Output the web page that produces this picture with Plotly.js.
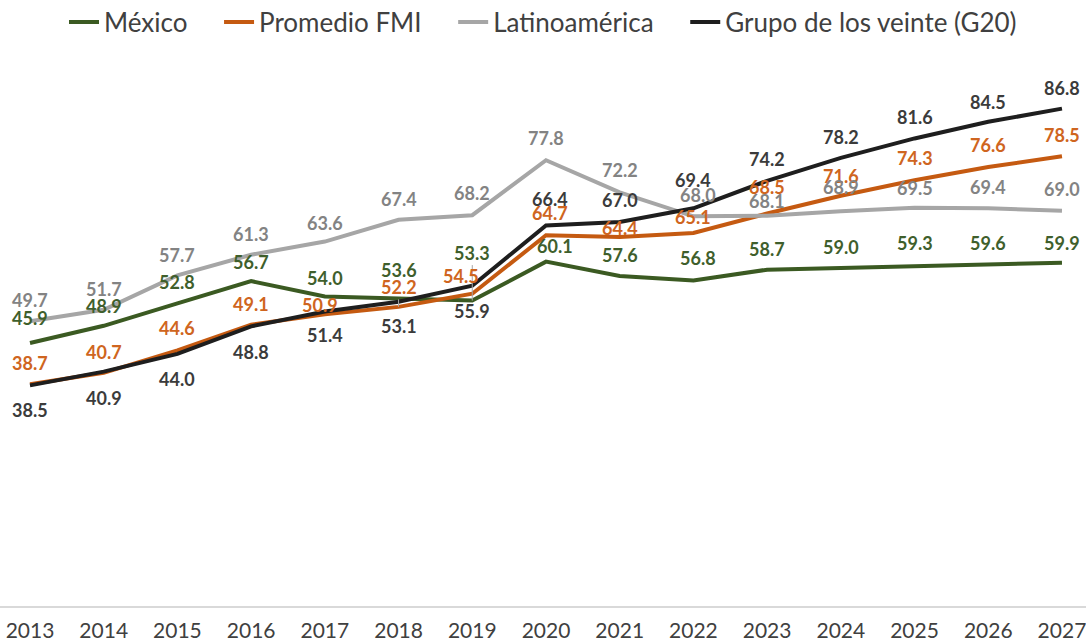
<!DOCTYPE html>
<html>
<head>
<meta charset="utf-8">
<script src="https://cdn.plot.ly/plotly-3.0.1.min.js"></script>
<style>html,body{margin:0;padding:0;background:#fff;}#chart{width:1086px;height:642px;}</style>
</head>
<body>
<div id="chart"></div>
<script>
// ---- data ----
const years = [2013, 2014, 2015, 2016, 2017, 2018, 2019, 2020, 2021, 2022, 2023, 2024, 2025, 2026, 2027];
const seriesNames = ["México", "Promedio FMI", "Latinoamérica", "Grupo de los veinte (G20)"];
const mexico = [45.9, 48.9, 52.8, 56.7, 54.0, 53.6, 53.3, 60.1, 57.6, 56.8, 58.7, 59.0, 59.3, 59.6, 59.9];
const promedioFMI = [38.7, 40.7, 44.6, 49.1, 50.9, 52.2, 54.5, 64.7, 64.4, 65.1, 68.5, 71.6, 74.3, 76.6, 78.5];
const latinoamerica = [49.7, 51.7, 57.7, 61.3, 63.6, 67.4, 68.2, 77.8, 72.2, 68.0, 68.1, 68.9, 69.5, 69.4, 69.0];
const g20 = [38.5, 40.9, 44.0, 48.8, 51.4, 53.1, 55.9, 66.4, 67.0, 69.4, 74.2, 78.2, 81.6, 84.5, 86.8];

// ---- styling (label placement offsets in px, negative = above point) ----
const styles = [
  {line: "#3b5a22", text: "#3f5f2c",
   dy: [-25,-20,-21,-19,-19,-29,-48,-16,-21,-23,-21,-21,-23,-21,-20],
   dx: [0,0,0,0,0,0,0,9,0,5,0,0,0,0,0], leader: [6]},
  {line: "#c55a11", text: "#cf6520",
   dy: [-21,-21,-22,-21,-9,-20,-18,-22,-9,-16,-26,-20,-22,-22,-21],
   dx: [0,0,0,0,-5,0,-11,4,0,0,0,0,0,0,0], leader: [5]},
  {line: "#a6a6a6", text: "#838383",
   dy: [-21,-21,-20,-21,-19,-21,-22,-22,-22,-21,-15,-24,-20,-21,-22],
   dx: [0,0,0,0,0,0,0,0,0,5,0,0,0,0,0], leader: []},
  {line: "#1e1e1e", text: "#3b3b3b",
   dy: [25,26,25,26,24,24,25,-27,-22,-28,-22,-21,-21,-20,-21],
   dx: [0,0,0,0,0,0,0,4,0,0,0,0,0,0,0], leader: []}
];

const allSeries = [mexico, promedioFMI, latinoamerica, g20];
const FONT = "Lato, 'Open Sans', sans-serif";
const pad = ["\u00a0\u00a0\u00a0\u00a0", "\u00a0\u00a0\u00a0\u00a0", "\u00a0\u00a0\u00a0\u00a0", ""];

const traces = allSeries.map((vals, i) => ({
  type: "scatter", mode: "lines", x: years, y: vals,
  name: seriesNames[i] + pad[i],
  line: {color: styles[i].line, width: 4},
  hoverinfo: "x+y+name"
}));

const annotations = [];
allSeries.forEach((vals, i) => {
  const st = styles[i];
  vals.forEach((v, j) => {
    const isLeader = st.leader.indexOf(j) >= 0;
    const base = {
      x: years[j], y: v, xref: "x", yref: "y",
      text: v.toFixed(1),
      font: {family: FONT, size: 18, color: st.text, weight: 700}
    };
    if (isLeader) {
      Object.assign(base, {showarrow: true, arrowhead: 0, arrowwidth: 1, arrowcolor: "#a6a6a6",
        ax: st.dx[j], ay: st.dy[j], standoff: 0});
    } else {
      Object.assign(base, {showarrow: false, xanchor: "center", yanchor: "middle",
        xshift: st.dx[j], yshift: -st.dy[j]});
    }
    annotations.push(base);
  });
});

const layout = {
  width: 1086, height: 642,
  margin: {l: 0, r: 0, t: 33, b: 36, autoexpand: false},
  paper_bgcolor: "#ffffff", plot_bgcolor: "#ffffff",
  font: {family: FONT, color: "#404040"},
  showlegend: true,
  legend: {orientation: "h", x: 0.5, xanchor: "center", y: 1 - 22/642, yref: "container", yanchor: "middle",
    font: {family: FONT, size: 26, color: "#404040"}, itemwidth: 30},
  xaxis: {
    range: [2012.593, 2027.326], tickvals: years, ticktext: years.map(String),
    showline: true, linecolor: "#d9d9d9", linewidth: 2,
    showgrid: false, zeroline: false, ticks: "", ticklabeloverflow: "allow",
    tickfont: {family: FONT, size: 21, color: "#404040"}, ticklabelstandoff: 5
  },
  yaxis: {range: [0, 100], visible: false, showgrid: false, zeroline: false},
  annotations: annotations
};

Plotly.newPlot("chart", traces, layout, {displayModeBar: false, staticPlot: true});
</script>
</body>
</html>
